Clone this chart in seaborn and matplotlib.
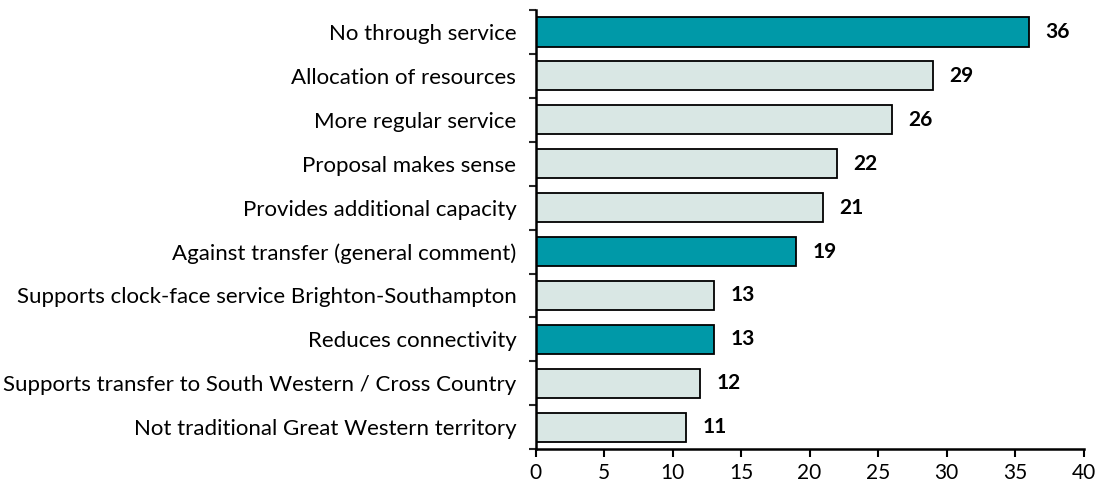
import matplotlib
matplotlib.use("Agg")
import matplotlib.pyplot as plt
import seaborn as sns
import pandas as pd
import numpy as np

categories = [
    "No through service",
    "Allocation of resources",
    "More regular service",
    "Proposal makes sense",
    "Provides additional capacity",
    "Against transfer (general comment)",
    "Supports clock-face service Brighton-Southampton",
    "Reduces connectivity",
    "Supports transfer to South Western / Cross Country",
    "Not traditional Great Western territory",
]
counts = [36, 29, 26, 22, 21, 19, 13, 13, 12, 11]
against = [True, False, False, False, False, True, False, True, False, False]

TEAL = "#0099A8"
PALE = "#D9E7E4"

df = pd.DataFrame({"category": categories, "count": counts, "against": against})

sns.set_theme(style="white")
plt.rcParams["font.family"] = ["Lato", "DejaVu Sans"]

fig = plt.figure(figsize=(11, 4.9), dpi=100)
ax = fig.add_axes([0.487, 0.083, 0.498, 0.897])

sns.barplot(data=df, y="category", x="count", orient="h", ax=ax,
            color=PALE, width=0.67, edgecolor="black", linewidth=1.3,
            saturation=1)
for patch, flag in zip(ax.patches, df["against"]):
    patch.set_facecolor(TEAL if flag else PALE)

for i, v in enumerate(df["count"]):
    ax.text(v + 1.2, i, str(v), va="center", ha="left",
            fontsize=15, fontweight="bold", color="black")

ax.set_xlim(0, 40)
ax.set_ylim(len(categories) - 0.5, -0.5)
ax.set_xticks(range(0, 41, 5))
ax.set_xlabel("")
ax.set_ylabel("")
ax.tick_params(axis="x", labelsize=15, length=6, width=1.5, direction="out",
               bottom=True, pad=4, colors="black")
ax.tick_params(axis="y", labelsize=16, length=0, pad=14, colors="black")
ax.set_yticks(np.arange(-0.5, len(categories), 1.0), minor=True)
ax.tick_params(axis="y", which="minor", length=5, width=1.5, left=True)

for side in ("top", "right"):
    ax.spines[side].set_visible(False)
for side in ("left", "bottom"):
    ax.spines[side].set_color("black")
    ax.spines[side].set_linewidth(1.8)
ax.grid(False)

fig.savefig("out.png", dpi=100)
